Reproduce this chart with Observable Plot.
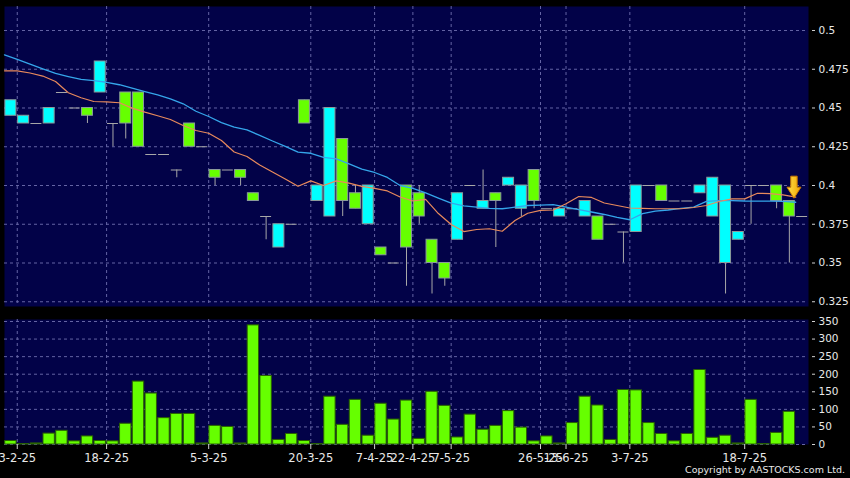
<!DOCTYPE html>
<html>
<head>
<meta charset="utf-8">
<script src="https://cdn.jsdelivr.net/npm/d3@7"></script>
<script src="https://cdn.jsdelivr.net/npm/@observablehq/plot@0.6"></script>
<style>
  html, body { margin: 0; padding: 0; background: #000; }
  #wrap { position: relative; width: 850px; height: 478px; overflow: hidden; background: #000; font-family: "DejaVu Sans", sans-serif; }
  #topPanel, #bottomPanel { position: absolute; left: 0; }
  #topPanel { top: 0; }
  #bottomPanel { top: 312px; }
  #copy { position: absolute; right: 5px; top: 464px; color: #e8e8e8; font-size: 9.5px; font-family: "DejaVu Sans", sans-serif; white-space: nowrap; }
  svg { display: block; }
</style>
</head>
<body>
<div id="wrap">
  <div id="topPanel"></div>
  <div id="bottomPanel"></div>
  <div id="copy">Copyright by AASTOCKS.com Ltd.</div>
</div>
<script>
// ---- data (one entry per trading session) ----
const opens  = [0.445,0.44,0.44,0.44,0.46,0.45,0.45,0.46,0.44,0.46,0.46,0.42,0.42,0.41,0.44,0.425,0.41,0.41,0.41,0.395,0.38,0.36,0.375,0.455,0.39,0.38,0.43,0.395,0.375,0.36,0.35,0.4,0.395,0.365,0.35,0.365,0.4,0.385,0.395,0.4,0.385,0.41,0.385,0.38,0.385,0.38,0.38,0.375,0.37,0.37,0.4,0.4,0.39,0.39,0.395,0.38,0.35,0.365,0.4,0.4,0.4,0.39,0.38];
const highs  = [0.455,0.445,0.44,0.45,0.46,0.45,0.45,0.48,0.44,0.46,0.46,0.42,0.42,0.41,0.44,0.425,0.41,0.41,0.41,0.395,0.38,0.375,0.375,0.455,0.4,0.45,0.43,0.4,0.4,0.36,0.35,0.4,0.4,0.365,0.35,0.395,0.4,0.41,0.395,0.405,0.4,0.41,0.385,0.385,0.385,0.39,0.38,0.375,0.37,0.4,0.4,0.4,0.39,0.39,0.4,0.405,0.4,0.37,0.4,0.4,0.4,0.39,0.38];
const lows   = [0.445,0.44,0.44,0.44,0.46,0.45,0.44,0.46,0.425,0.43,0.425,0.42,0.42,0.405,0.425,0.425,0.4,0.41,0.4,0.39,0.365,0.36,0.375,0.44,0.39,0.38,0.38,0.385,0.375,0.355,0.35,0.335,0.375,0.33,0.335,0.365,0.4,0.385,0.36,0.4,0.38,0.385,0.385,0.38,0.385,0.38,0.365,0.375,0.35,0.37,0.4,0.39,0.39,0.39,0.395,0.38,0.33,0.365,0.375,0.4,0.385,0.35,0.38];
const closes = [0.455,0.445,0.44,0.45,0.46,0.45,0.445,0.48,0.44,0.44,0.425,0.42,0.42,0.41,0.425,0.425,0.405,0.41,0.405,0.39,0.38,0.375,0.375,0.44,0.4,0.45,0.39,0.385,0.4,0.355,0.35,0.36,0.38,0.35,0.34,0.395,0.4,0.39,0.39,0.405,0.4,0.39,0.385,0.385,0.385,0.39,0.365,0.375,0.37,0.4,0.4,0.39,0.39,0.39,0.4,0.405,0.4,0.37,0.4,0.4,0.39,0.38,0.38];
const volumes = [10,1,3,31,39,9,23,10,9,59,179,145,75,87,87,3,53,50,3,339,195,13,30,10,1,136,56,127,25,116,71,125,16,150,110,20,85,42,53,95,48,9,23,3,61,136,111,13,155,154,61,30,9,30,212,19,25,3,127,1,33,93,0];
// moving averages (read at session boundaries)
const maShort = [0.4740,0.4740,0.4726,0.4706,0.4671,0.4598,0.4566,0.4542,0.4540,0.4534,0.4499,0.4473,0.4450,0.4426,0.4387,0.4355,0.4337,0.4290,0.4216,0.4187,0.4132,0.4087,0.4042,0.3995,0.4030,0.4000,0.4030,0.4015,0.3994,0.3981,0.3965,0.3926,0.3900,0.3910,0.3819,0.3748,0.3703,0.3716,0.3721,0.3705,0.3774,0.3821,0.3839,0.3842,0.3882,0.3929,0.3923,0.3887,0.3871,0.3855,0.3852,0.3850,0.3850,0.3850,0.3858,0.3871,0.3897,0.3914,0.3914,0.3950,0.3948,0.3939,0.3925];
const maLong  = [0.4843,0.4813,0.4783,0.4753,0.4723,0.4703,0.4684,0.4677,0.4666,0.4650,0.4628,0.4606,0.4585,0.4559,0.4527,0.4479,0.4445,0.4406,0.4376,0.4359,0.4323,0.4287,0.4252,0.4215,0.4208,0.4181,0.4172,0.4140,0.4106,0.4084,0.4052,0.4000,0.3981,0.3952,0.3919,0.3886,0.3869,0.3860,0.3852,0.3850,0.3860,0.3871,0.3874,0.3877,0.3861,0.3845,0.3829,0.3813,0.3794,0.3779,0.3819,0.3835,0.3842,0.3852,0.3861,0.3897,0.3903,0.3903,0.3900,0.3899,0.3899,0.3897,0.3892];
// axes
const xTickSessions = [0,7,15,23,28,31,34,41,43,48,57];
const xTickLabels = ["3-2-25","18-2-25","5-3-25","20-3-25","7-4-25","22-4-25","7-5-25","26-5-25","13-6-25","3-7-25","18-7-25"];
const priceTicks = [0.5,0.475,0.45,0.425,0.4,0.375,0.35,0.325];
const volumeTicks = [0,50,100,150,200,250,300,350];
const arrowSession = 61.4, arrowPrice = 0.3915;

// ---- derived tables ----
const candles = opens.map((o, i) => ({i, open: o, high: highs[i], low: lows[i], close: closes[i], volume: volumes[i]}));
const bodies = candles.filter(d => d.close !== d.open);
const dojis = candles.filter(d => d.close === d.open);
const wicks = candles.filter(d => d.high > d.low);
const maS = maShort.map((v, k) => ({x: k - 0.5, y: v}));
const maL = maLong.map((v, k) => ({x: k - 0.5, y: v}));
const gridX = xTickSessions.map(s => s + 0.5);
const labelAt = new Map(gridX.map((p, i) => [p, xTickLabels[i]]));

const UP = "#00ffff", DOWN = "#66ff00", NAVY = "#020248", GRID = "#6464a4";
const W = 850, ML = 4, MR = 42;
const xDomain = [-0.5, 62.5];
const half = 0.43;

const topPlot = Plot.plot({
  width: W, height: 312,
  marginLeft: ML, marginRight: MR, marginTop: 6, marginBottom: 6,
  style: {background: "transparent", color: "#e8e8e8", fontFamily: "DejaVu Sans", fontSize: "10.5px"},
  x: {domain: xDomain, axis: null},
  y: {domain: [0.32194, 0.51548], axis: null},
  marks: [
    Plot.frame({fill: NAVY, stroke: "none"}),
    Plot.ruleY(priceTicks, {stroke: GRID, strokeDasharray: "3,3"}),
    Plot.ruleX(gridX, {stroke: GRID, strokeDasharray: "3,3"}),
    Plot.ruleX(wicks, {x: "i", y1: "low", y2: "high", stroke: "#a8a8a8", strokeWidth: 1}),
    Plot.ruleY(dojis, {y: "close", x1: d => d.i - half, x2: d => d.i + half, stroke: "#a8a8a8", strokeWidth: 1}),
    Plot.rect(bodies, {x1: d => d.i - half, x2: d => d.i + half, y1: "open", y2: "close",
      fill: d => d.close > d.open ? UP : DOWN, stroke: "#8a9a9a", strokeWidth: 1}),
    Plot.line(maL, {x: "x", y: "y", stroke: "#35a6ea", strokeWidth: 1.3}),
    Plot.line(maS, {x: "x", y: "y", stroke: "#e88a5c", strokeWidth: 1.2}),
    Plot.axisY({anchor: "right", label: null, ticks: priceTicks, tickFormat: d => String(d), tickSize: 3, tickPadding: 4, dx: 3, stroke: "#d0d0d0"})
  ]
});
document.getElementById("topPanel").appendChild(topPlot);

// arrow annotation placed through the plot's scales
{
  const sx = topPlot.scale("x").apply(arrowSession);
  const sy = topPlot.scale("y").apply(arrowPrice);
  const svg = d3.select(topPlot);
  const defs = svg.append("defs");
  const g = defs.append("linearGradient").attr("id", "arrowGrad").attr("x1", 0).attr("x2", 1).attr("y1", 0).attr("y2", 0);
  g.append("stop").attr("offset", "0%").attr("stop-color", "#ffe04a");
  g.append("stop").attr("offset", "100%").attr("stop-color", "#f0a400");
  const pts = [[-3.2,-22],[3.2,-22],[3.2,-11],[7,-11],[0,0],[-7,-11],[-3.2,-11]].map(([a,b]) => [sx + a, sy + b]);
  svg.append("path").attr("d", "M" + pts.map(p => p.join(",")).join("L") + "Z")
    .attr("fill", "url(#arrowGrad)").attr("stroke", "#c87800").attr("stroke-width", 1);
}

const bottomPlot = Plot.plot({
  width: W, height: 166,
  marginLeft: ML, marginRight: MR, marginTop: 7, marginBottom: 34,
  style: {background: "transparent", color: "#e8e8e8", fontFamily: "DejaVu Sans", fontSize: "10.5px"},
  x: {domain: xDomain, axis: null},
  y: {domain: [0, 355.7], axis: null},
  marks: [
    Plot.frame({fill: NAVY, stroke: "none"}),
    Plot.ruleY(volumeTicks, {stroke: GRID, strokeDasharray: "3,3"}),
    Plot.ruleX(gridX, {stroke: GRID, strokeDasharray: "3,3"}),
    Plot.rect(candles.filter(d => d.volume > 0), {x1: d => d.i - 0.445, x2: d => d.i + 0.445, y1: 0, y2: "volume",
      fill: DOWN, stroke: "#2a6000", strokeWidth: 1}),
    Plot.axisY({anchor: "right", label: null, ticks: volumeTicks, tickFormat: d => String(d), tickSize: 3, tickPadding: 4, dx: 3, stroke: "#d0d0d0"}),
    Plot.axisX({anchor: "bottom", label: null, ticks: gridX, tickFormat: d => labelAt.get(d), tickSize: 5, tickPadding: 4, fontSize: "11.5px", stroke: "#d0d0d0"})
  ]
});
document.getElementById("bottomPanel").appendChild(bottomPlot);
</script>
</body>
</html>
